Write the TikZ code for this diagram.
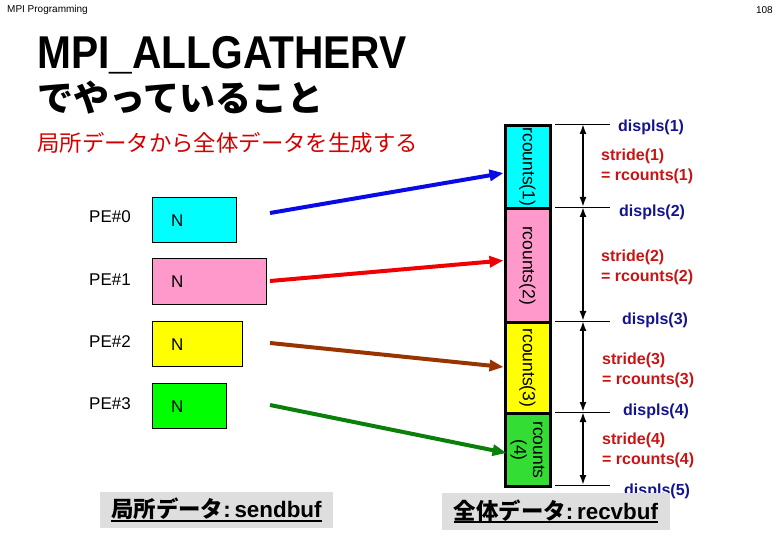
\documentclass[tikz,border=0pt]{standalone}
\usepackage{fontspec}
\setmainfont{Liberation Sans}
\newfontfamily\jp{Noto Sans CJK JP}
\newfontfamily\ttlfont{Liberation Sans}[FakeStretch=0.885]
\usetikzlibrary{arrows.meta}
\definecolor{pecyan}{HTML}{00FFFF}
\definecolor{pepink}{HTML}{FF99CC}
\definecolor{peyellow}{HTML}{FFFF00}
\definecolor{pegreen}{HTML}{00FF00}
\definecolor{rvgreen}{HTML}{33DD33}
\definecolor{arblue}{HTML}{0A0AE6}
\definecolor{arred}{HTML}{F00000}
\definecolor{arbrown}{HTML}{993300}
\definecolor{argreen}{HTML}{0A800A}
\definecolor{dspblue}{HTML}{14148C}
\definecolor{strred}{HTML}{C81414}
\definecolor{subred}{HTML}{D40000}
\newsavebox\bufbox
\newcommand\bufline[1]{\sbox\bufbox{#1}\rlap{\rule[-4pt]{\wd\bufbox}{2pt}}\usebox\bufbox}

\begin{document}
\begin{tikzpicture}[x=1pt,y=-1pt,
  pe/.style={anchor=west,inner sep=0pt,font=\fontsize{17}{20}\selectfont},
  sbuf/.style={draw,anchor=north west,minimum height=45pt,inner sep=0pt},
  seg/.style={draw,line width=3pt,anchor=north west,minimum width=45pt,inner sep=0pt,font=\fontsize{17.5}{20}\selectfont},
  tick/.style={line width=0.8pt},
  dim/.style={line width=1.8pt,{Latex[length=10pt,width=7pt]}-{Latex[length=10pt,width=7pt]}},
  dsp/.style={anchor=base west,inner sep=0pt,text=dspblue,font=\fontsize{16}{18}\selectfont\bfseries},
  strd/.style={anchor=west,inner sep=0pt,align=left,text=strred,font=\fontsize{16}{20}\selectfont\bfseries},
  arr/.style={line width=4pt,-{Triangle[length=14pt,width=11pt]}},
  buflbl/.style={fill=black!13,minimum width=233pt,minimum height=36pt,inner sep=0pt,font=\fontsize{22.4}{24}\selectfont\bfseries}]
\useasboundingbox (0,0) rectangle (780,540);
% header
\node[anchor=west,inner sep=0pt,font=\fontsize{10}{12}\selectfont] (hd) at (7,10) {MPI Programming};
\node[anchor=east,inner sep=0pt,font=\fontsize{10}{12}\selectfont] (pg) at (773,10) {108};
% title
\node[anchor=base west,inner sep=0pt,font=\ttlfont\fontsize{46}{50}\selectfont\bfseries] (ttl) at (37,69) {MPI\_ALLGATHERV};
\node[anchor=base west,inner sep=0pt,font=\jp\fontsize{36}{40}\selectfont\bfseries] (ttl2) at (37,112) {でやっていること};
\node[anchor=base west,inner sep=0pt,text=subred,font=\jp\fontsize{22.4}{24}\selectfont] (sub) at (37,151.5) {局所データから全体データを生成する};
% sendbuf
\node[pe] (p0) at (89,217) {PE\#0};
\node[pe] (p1) at (89,280) {PE\#1};
\node[pe] (p2) at (89,342) {PE\#2};
\node[pe] (p3) at (89,404) {PE\#3};
\node[sbuf,fill=pecyan,minimum width=84pt] (s0) at (152,197) {};
\node[sbuf,fill=pepink,minimum width=114pt,minimum height=46pt] (s1) at (152,258) {};
\node[sbuf,fill=peyellow,minimum width=90pt] (s2) at (152,321) {};
\node[sbuf,fill=pegreen,minimum width=74pt] (s3) at (152,383) {};
\node[pe] (n0) at (171,220.5) {N};
\node[pe] (n1) at (171,282) {N};
\node[pe] (n2) at (171,345) {N};
\node[pe] (n3) at (171,407) {N};
% recvbuf
\node[seg,fill=pecyan,minimum height=83pt] (r1) at (503.5,124) {\rotatebox{-90}{rcounts(1)}};
\node[seg,fill=pepink,minimum height=114pt] (r2) at (503.5,207) {\rotatebox{-90}{rcounts(2)}};
\node[seg,fill=peyellow,minimum height=91pt] (r3) at (503.5,321) {\rotatebox{-90}{rcounts(3)}};
\node[seg,fill=rvgreen,minimum height=73pt] (r4) at (503.5,412) {\rotatebox{-90}{\begin{tabular}{@{}c@{}}rcounts\\[-1pt](4)\end{tabular}}};
% send arrows
\coordinate (a0) at (270,213);
\coordinate (a1) at (270,281);
\coordinate (a2) at (270,343);
\coordinate (a3) at (270,405);
\draw[arr,arblue] (a0) -- ([yshift=-6pt]r1.west);
\draw[arr,arred] (a1) -- ([yshift=5pt]r2.west);
\draw[arr,arbrown] (a2) -- ([yshift=1pt]r3.west);
\draw[arr,argreen] (a3) -- ([xshift=3pt,yshift=-3pt]r4.west);
% displs and strides
\foreach \y [count=\i] in {124,207,321,412,485} {
  \coordinate (t\i) at (555,\y);
  \coordinate (u\i) at (610,\y);
  \coordinate (d\i) at (583,\y);
  \draw[tick] (t\i) -- (u\i);
}
\draw[dim] (d1) -- (d2);
\draw[dim] (d2) -- (d3);
\draw[dim] (d3) -- (d4);
\draw[dim] (d4) -- (d5);
\node[dsp] (ds1) at (618,132) {displs(1)};
\node[dsp] (ds2) at (619,216.5) {displs(2)};
\node[dsp] (ds3) at (622,325) {displs(3)};
\node[dsp] (ds4) at (623,415.5) {displs(4)};
\node[dsp] (ds5) at (624,495) {displs(5)};
\node[strd] (st1) at (601,166.5) {stride(1)\\= rcounts(1)};
\node[strd] (st2) at (601,267.5) {stride(2)\\= rcounts(2)};
\node[strd] (st3) at (602,370.5) {stride(3)\\= rcounts(3)};
\node[strd] (st4) at (602,450.5) {stride(4)\\= rcounts(4)};
% buffer names
\node[buflbl] (sb) at (216.5,510) {\bufline{{\jp\bfseries 局所データ}:\,sendbuf}};
\node[buflbl,minimum width=228pt,minimum height=37pt] (rb) at (556,511.5) {\bufline{{\jp\bfseries 全体データ}:\,recvbuf}};
\end{tikzpicture}
\end{document}
